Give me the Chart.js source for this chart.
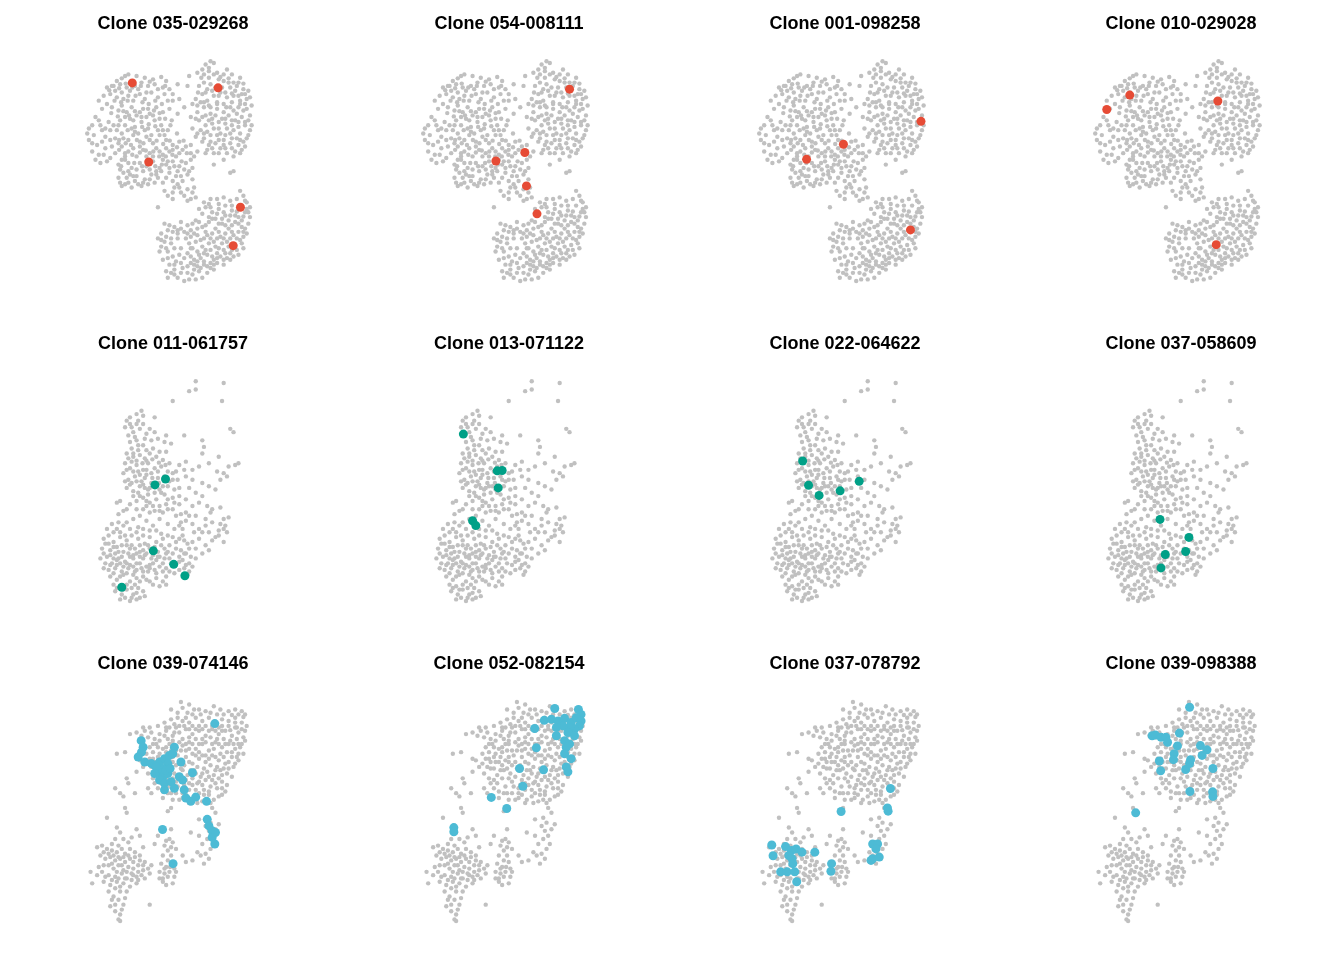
<!DOCTYPE html>
<html>
<head>
<meta charset="utf-8">
<script src="https://cdn.jsdelivr.net/npm/chart.js@4/dist/chart.umd.min.js"></script>
<style>
  html, body { margin: 0; padding: 0; background: #ffffff; }
  #grid { position: relative; width: 1344px; height: 960px; }
  #grid canvas { position: absolute; }
</style>
</head>
<body>
<div id="grid"></div>
<script>
// Embedding coordinates (arbitrary UMAP-like units), y grows downward.
const bgRow1 = [
[385,30],[400,20],[410,25],[395,40],[375,45],
[100,95],[115,80],[140,65],[175,65],[200,70],[225,75],[250,68],[265,80],[150,60],[130,72],
[335,65],[360,55],[380,60],[395,50],[420,55],[440,60],[465,60],[490,70],[485,85],
[85,100],[105,95],[125,90],[145,100],[170,95],[190,85],[210,95],[230,90],[255,100],[275,105],[300,90],
[365,95],[380,85],[400,90],[440,80],[460,100],[480,95],[500,105],[515,110],[330,95],
[75,125],[95,120],[115,130],[130,115],[150,125],[165,140],[185,120],[200,135],[220,115],[240,130],[260,120],[285,140],[305,135],
[355,135],[375,120],[390,140],[410,125],[430,115],[450,130],[470,125],[490,140],[510,135],[525,155],
[50,190],[70,165],[100,160],[130,155],[145,175],[160,160],[175,185],[195,165],[215,180],[235,160],[255,175],[275,165],[300,180],[320,160],
[360,175],[380,160],[400,180],[420,165],[440,175],[460,160],[480,180],[500,170],[520,185],
[25,240],[40,215],[60,200],[90,205],[125,200],[140,215],[155,195],[170,220],[190,205],[210,225],[230,200],[250,215],[270,230],
[345,225],[365,200],[385,215],[405,195],[425,225],[445,210],[465,200],[485,220],[505,205],[525,215],
[30,260],[45,245],[55,275],[80,250],[110,255],[130,240],[150,260],[165,245],[185,265],[205,250],[225,270],[245,245],[265,260],[285,275],[305,265],[325,280],
[355,250],[380,240],[400,265],[420,245],[440,260],[460,240],[480,255],[500,265],[515,245],
[40,295],[60,305],[80,285],[110,300],[130,280],[150,295],[175,310],[195,290],[215,300],[235,285],[255,305],[275,295],[295,310],[315,290],[340,300],[360,295],
[390,290],[410,300],[430,285],[450,300],[475,295],[495,290],
[65,330],[85,325],[120,335],[140,320],[160,345],[185,330],[205,340],[225,325],[245,345],[265,335],[285,325],[305,340],[325,330],[345,345],
[410,335],[440,320],[470,310],[460,360],
[120,375],[135,360],[150,390],[165,370],[180,395],[200,380],[220,365],[240,375],[255,390],[275,360],[295,370],[315,385],[330,365],[130,400],[160,405],[190,400],
[470,355],
[260,415],[285,420],[305,405],[320,430],[345,420],[340,440],[355,435],[285,440],
[240,465],
[490,415],[500,430],[440,435],[460,445],[480,440],[510,450],[425,455],[520,465],
[365,470],[385,465],[405,480],[425,470],[445,490],[465,475],[485,495],[505,480],[520,495],[395,495],
[290,525],[310,510],[330,520],[355,505],[375,525],[395,510],[415,530],[435,515],[455,530],[475,510],[495,525],[515,515],[270,535],[250,545],
[240,560],[265,555],[300,545],[325,560],[350,545],[370,565],[390,550],[410,570],[430,555],[450,570],[470,550],[490,565],[510,545],
[250,585],[270,600],[290,590],[345,590],[365,610],[385,595],[405,615],[425,590],[445,605],[465,595],[485,610],[500,590],
[255,625],[275,640],[295,630],[315,650],[340,635],[360,645],[380,630],[400,650],[420,635],[440,640],[460,625],
[280,665],[300,680],[320,690],[345,670],[365,660],[390,665],[410,655],
[110,110],[135,135],[155,110],[180,105],[205,115],[120,170],[140,190],[165,200],[185,175],[205,190],[225,185],[245,195],
[115,230],[135,255],[160,225],[180,240],[200,230],[220,245],[240,230],[260,245],[120,270],[140,300],[165,285],[185,280],
[205,310],[225,310],[245,295],[265,285],[285,290],[130,320],[150,330],[175,350],[195,355],[215,350],[235,355],[255,320],
[275,345],[300,355],[125,350],[145,375],[170,385],[210,395],[230,390],[300,395],[320,350],[340,320],[345,380],[100,280],
[70,230],[95,230],[50,320],[30,225],[85,150],[60,140],
[390,105],[415,100],[435,100],[455,85],[475,110],[495,120],[370,145],[395,155],[420,145],[440,150],[465,145],[485,160],
[505,150],[375,190],[395,200],[415,185],[435,195],[455,185],[475,200],[495,190],[515,200],[370,230],[390,235],[410,225],
[430,240],[450,225],[470,230],[490,240],[375,265],[395,275],[415,270],[440,275],[460,270],[485,275],[505,280],[410,60],[425,75],[450,45],
[380,450],[400,440],[415,500],[435,500],[455,505],[475,490],[495,505],[510,470],[340,535],[360,530],[385,540],[405,545],
[425,540],[445,545],[465,540],[485,540],[500,555],[335,575],[355,570],[375,585],[395,575],[415,585],[435,575],[455,585],
[475,580],[495,575],[330,605],[350,625],[370,620],[390,610],[410,625],[430,615],[450,620],[470,615],[260,570],[280,575],
[285,615],[305,610],[265,660],[290,655],[330,665],[350,655],[375,680],[310,530],[330,545],[285,540],[260,515],
[92,108],[122,102],[142,88],[162,100],[188,95],[215,82],[240,105],[262,95],[285,120],[108,140],[128,145],[148,140],
[172,125],[193,145],[212,150],[232,140],[252,150],[270,140],[98,178],[118,188],[135,172],[152,185],[170,172],[190,190],
[210,165],[228,170],[245,178],[262,195],[282,200],[65,215],[80,225],[105,215],[120,215],[148,230],[170,235],[192,220],
[212,212],[232,218],[255,230],[278,215],[298,240],[40,270],[70,265],[95,260],[122,260],[142,270],[158,275],[176,260],
[196,270],[215,260],[236,262],[256,272],[276,262],[298,282],[318,262],[340,275],[75,305],[95,315],[122,290],[140,310],
[162,305],[185,298],[203,292],[226,295],[244,310],[264,310],[284,305],[305,300],[328,300],[350,310],[128,340],[150,355],
[168,330],[192,340],[213,330],[232,340],[252,335],[270,325],[290,340],[312,325],[335,355],[125,390],[140,395],[155,365],
[175,370],[195,390],[215,380],[235,365],[250,355],[265,375],[285,385],[310,370],[290,405],[310,420],[330,410],[270,430],
[330,445],[350,405],
[372,70],[395,70],[430,68],[455,72],[470,85],[500,88],[362,115],[385,115],[405,110],[425,125],[445,115],[465,118],
[485,125],[505,120],[520,130],[360,155],[380,145],[400,160],[420,150],[448,160],[470,170],[490,150],[510,165],[355,195],
[385,185],[405,210],[425,205],[445,195],[465,215],[485,205],[505,215],[520,230],[360,240],[380,255],[400,245],[425,260],
[445,245],[465,255],[490,260],[510,255],[385,300],[405,285],[425,300],[445,285],[465,285],[490,300],[340,190],[345,150],
[395,455],[420,440],[445,460],[465,460],[490,460],[505,445],[375,485],[400,465],[420,485],[440,480],[460,490],[480,478],
[500,493],[515,480],[345,515],[365,510],[385,520],[405,500],[425,515],[445,520],[465,520],[485,515],[505,530],[320,540],
[340,555],[360,550],[380,560],[400,560],[420,560],[440,560],[460,560],[480,560],[500,540],[340,590],[360,600],[380,605],
[400,595],[420,605],[440,595],[460,605],[480,595],[320,620],[340,615],[360,630],[380,640],[400,635],[420,620],[440,625],
[270,620],[290,640],[310,635],[330,645],[350,640],[370,650],[390,645],[410,640],[270,680],[290,670],[310,665],[335,685],
[355,685],[245,600],[265,590],[310,590],[250,565],[280,560],[300,560],[275,520],[300,535]
];

const bgRow2 = [
[310,20],[395,25],[290,50],[310,45],[240,80],[390,80],[185,130],[415,165],[425,175],[275,185],[330,200],[440,270],[430,275],
[410,280],[380,250],[335,220],[330,240],
[100,140],[95,160],[110,150],[120,175],[130,120],[145,110],[150,125],[105,185],[125,190],[140,165],[160,180],[185,175],
[175,200],[220,185],[215,205],[235,210],[150,215],[135,215],[100,240],[120,240],
[120,250],[140,245],[155,255],[170,240],[190,250],[210,260],[230,270],[95,270],[110,285],[130,275],[150,290],[165,270],
[185,285],[205,280],[225,295],[240,300],
[90,300],[105,320],[125,310],[145,325],[160,305],[175,330],[195,315],[210,340],[230,325],[245,350],[100,345],[120,355],
[140,340],[165,350],[185,360],[215,365],[240,375],[260,370],
[150,375],[170,390],[190,380],[200,400],[220,395],[240,410],[260,395],[185,415],[210,420],[265,425],[80,385],[100,410],
[110,395],[75,425],[130,410],
[260,275],[280,265],[300,290],[320,280],[350,270],[375,295],[395,300],[280,310],[300,320],[330,330],[290,345],[310,360],
[370,350],[385,320],[405,310],[260,345],[280,380],[300,400],[320,390],[345,400],[360,410],[385,405],[395,440],[410,435],
[120,440],[140,430],[160,445],[180,460],[200,440],[225,455],[245,470],[265,450],[290,430],[300,455],[320,470],[340,460],
[360,450],[380,475],[400,460],[55,455],[70,470],[90,460],[110,470],[130,480],[150,470],
[30,500],[45,490],[60,510],[80,495],[100,505],[115,520],[135,500],[155,515],[170,495],[190,510],[210,500],[230,520],
[250,510],[270,490],[285,515],[320,500],[340,520],[360,505],[380,490],[395,510],[330,545],[350,535],[25,530],[50,535],
[70,525],[90,540],[110,530],[130,545],[150,535],[170,530],[195,540],[215,530],[240,545],[265,535],[290,530],
[20,560],[40,555],[55,575],[75,560],[95,570],[110,555],[130,575],[150,560],[170,580],[190,565],[210,575],[230,560],
[250,580],[270,565],[290,575],[290,600],[45,595],[65,590],[85,600],[105,590],[125,600],[145,590],[165,600],[185,595],
[210,600],[245,605],[275,590],
[50,615],[70,625],[90,610],[110,630],[130,620],[150,615],[170,630],[190,620],[210,630],[220,615],[60,640],[80,645],
[100,640],[125,640],
[65,660],[85,670],[100,655],[115,680],[130,665],[150,660],[110,690],[130,685],[95,680],
[70,390],[90,415],[150,410],[170,420],
[115,265],[135,295],[155,315],[175,300],[195,295],[215,310],[115,330],[135,360],[155,345],[200,350],[225,340],[165,365],
[180,340],[130,385],[160,400],[60,480],[80,480],[45,515],[65,545],[85,520],[120,560],[140,555],[160,545],[180,550],
[200,555],[220,545],[100,575],[120,585],[140,575],[160,585],[180,575],[200,585],[220,590],[260,555],[280,545],[80,575],
[35,575],[60,560],
[110,130],[135,140],[115,160],[130,150],[150,150],[170,165],[110,205],[130,200],[155,195],[195,195],[115,225],[135,230],
[160,230],[180,225],[200,235],[220,235],[105,255],[130,262],[148,270],[160,262],[178,258],[198,268],[218,275],[100,290],
[120,295],[140,305],[160,290],[178,315],[198,330],[220,320],[240,320],[95,325],[110,335],[130,325],[150,335],[170,345],
[190,340],[205,360],[225,380],[245,390],[120,370],[140,370],[160,385],[180,400],[200,415],[225,410],[250,430],[280,420],
[310,430],[260,460],[280,445],[270,470],[305,480],[330,480],[350,480],[370,495],[385,455],[405,480],[395,470],[340,440],
[355,420],[330,370],[350,340],[275,290],[250,295],[255,320],
[40,470],[75,450],[100,450],[95,490],[115,490],[135,465],[150,490],[170,475],[190,475],[205,485],[225,490],[240,495],
[260,500],[275,505],[300,510],[310,530],[35,515],[60,525],[75,540],[100,520],[125,530],[140,520],[165,520],[185,525],
[205,520],[225,540],[250,530],[275,545],[295,555],[310,560],[30,545],[50,550],[70,565],[85,555],[105,545],[120,550],
[140,540],[155,550],[175,560],[195,555],[215,560],[235,575],[260,570],[280,580],[300,585],[30,590],[50,580],[70,580],
[90,585],[110,580],[130,595],[150,600],[170,590],[190,605],[230,600],[260,595],[285,610],[60,605],[80,615],[100,605],
[120,610],[140,630],[160,625],[180,640],[200,645],[220,640],[70,650],[90,655],[115,650],[135,650],[80,685],[120,670],
[140,680],[155,675]
];

const bgRow3 = [
[295,22],[300,40],[320,30],[315,55],[335,45],[355,60],[395,35],[415,45],[440,50],[460,45],[480,50],[490,60],[425,60],
[265,75],[285,70],[300,80],[320,85],[340,70],[360,80],[380,70],[400,85],[420,75],[440,80],[460,70],[480,85],[495,95],
[245,85],[225,95],[200,100],[180,100],
[140,120],[160,115],[185,110],[205,115],[230,120],[250,110],[270,125],[290,115],[310,105],[330,120],[350,110],[370,125],
[390,105],[410,120],[430,110],[450,125],[470,115],[490,110],[215,135],[255,135],
[200,160],[220,150],[240,165],[260,150],[280,170],[300,155],[320,145],[340,165],[360,150],[380,170],[400,145],[420,160],
[440,150],[460,165],[480,150],[190,180],[210,175],[230,180],[250,175],[270,150],
[170,200],[190,210],[210,195],[230,205],[250,215],[270,190],[290,205],[310,190],[330,210],[350,195],[370,205],[390,185],
[410,200],[430,210],[450,190],[470,200],[455,220],
[195,240],[215,225],[235,245],[255,230],[275,240],[295,225],[315,245],[335,230],[355,250],[375,235],[395,245],[415,230],
[435,240],[450,250],[160,235],
[195,285],[215,270],[240,295],[260,280],[280,265],[300,285],[320,270],[340,290],[360,275],[380,295],[400,270],[420,285],
[435,275],[430,295],[205,300],[240,315],
[270,320],[300,315],[320,330],[340,310],[360,325],[380,305],[395,320],[410,310],[265,345],[255,355],[325,320],
[330,95],[350,95],[370,95],[390,95],[410,100],[440,95],[460,100],[300,135],[320,130],[340,135],[360,135],[385,130],
[405,135],[425,135],[445,140],[465,135],[485,130],[310,170],[330,180],[350,175],[370,185],[395,165],[415,180],[435,175],
[470,180],[285,185],[305,215],[325,230],[345,220],[365,225],[385,215],[405,220],[425,225],[440,205],[270,205],[290,250],
[310,260],[330,255],[350,265],[370,260],[390,260],[410,255],[225,260],[250,255],[365,305],[280,300],[300,300],[215,205],
[245,190],[195,130],[225,160],[260,100],[280,100],[460,85],[420,95],[235,270],[320,290],[350,300],
[100,180],[125,175],[160,195],[130,255],[135,270],[95,285],[110,300],[155,300],[125,345],[130,360],[70,375],[120,310],
[390,345],[400,360],[375,375],[385,390],[370,400],[380,415],[400,410],[390,430],[375,440],[395,455],[360,455],[385,470],
[370,485],[355,490],[380,500],[365,515],[350,380],[410,395],[325,420],[350,430],
[265,410],[260,440],[245,460],[270,450],[255,475],[240,490],[265,490],[280,470],[235,515],[250,525],[270,510],[260,540],
[245,545],[275,530],[230,540],[240,560],[255,555],[275,555],[270,575],[240,570],[300,490],[330,505],[345,480],[310,510],
[225,430],[215,455],[205,520],[200,545],
[100,405],[110,420],[160,410],[120,440],[135,450],[40,465],[55,460],[70,470],[85,475],[100,480],[115,470],[125,485],
[140,470],[155,480],[170,490],[180,465],[50,490],[65,500],[80,495],[95,505],[110,500],[125,510],[140,500],[155,495],
[170,505],[185,510],[75,520],[90,530],[105,520],[120,535],[135,525],[150,530],[165,540],[180,535],[195,530],[20,540],
[55,540],[75,550],[95,555],[115,545],[130,560],[150,550],[165,565],[185,560],[25,575],[60,570],[80,580],[100,570],
[120,575],[140,585],[160,575],[110,600],[90,615],[125,620],[105,625],[80,645],[95,660],[110,670],[105,685],[110,690],[200,640],
[310,70],[330,60],[350,45],[370,50],[385,55],[405,60],[450,62],[470,60],[485,68],[275,90],[290,95],[305,95],[320,105],
[340,105],[360,105],[380,110],[400,110],[420,110],[445,108],[465,100],[480,105],[175,125],[245,125],[270,140],[290,145],
[310,150],[330,150],[350,150],[370,145],[390,150],[410,150],[430,150],[455,150],[470,150],[210,150],[230,140],[250,160],
[265,170],[295,170],[320,165],[340,185],[360,185],[380,195],[400,190],[425,190],[450,175],[465,190],[200,195],[225,190],
[240,205],[260,200],[280,215],[300,230],[320,205],[340,240],[360,240],[380,250],[400,230],[420,245],[440,225],[180,220],
[205,220],[225,225],[245,230],[265,225],[270,255],[285,280],[305,275],[330,275],[345,270],[365,290],[385,280],[405,285],
[420,265],[210,255],[225,285],[255,300],[265,300],[290,320],[310,305],[345,330],[375,320],[385,330],[420,305],[460,210],
[475,160],[485,180],[490,140],[265,45],[285,55],[250,100],[275,115],
[95,440],[105,460],[85,455],[60,480],[75,485],[90,490],[105,495],[120,495],[135,490],[150,510],[165,520],[180,520],
[60,520],[45,525],[85,515],[100,540],[115,520],[130,540],[145,545],[160,555],[175,550],[40,550],[65,555],[85,565],
[105,560],[125,560],[145,565],[95,590],[110,585],[75,600],[130,600],[95,640],[120,640],[85,625],[115,655],[170,430],
[145,435],[255,505],[245,530],[262,525],[250,580],[230,560],[280,540],[265,465],[250,445]
];

// Clone titles
const titles = [
  "Clone 035-029268", "Clone 054-008111", "Clone 001-098258", "Clone 010-029028",
  "Clone 011-061757", "Clone 013-071122", "Clone 022-064622", "Clone 037-058609",
  "Clone 039-074146", "Clone 052-082154", "Clone 037-078792", "Clone 039-098388"
];

// Highlighted cells per clone
const clone1 = [[162,86],[423,101],[212,327],[491,465],[469,582]];
const clone2 = [[470,105],[334,298],[246,324],[339,400],[371,485]];
const clone3 = [[517,203],[281,273],[169,319],[485,534]];
const clone4 = [[130,123],[60,167],[398,141],[393,579]];
const clone5 = [[186,336],[218,318],[181,537],[243,578],[277,613],[85,648]];
const clone6 = [[102,181],[205,293],[220,292],[208,345],[130,445],[140,460]];
const clone7 = [[112,263],[130,337],[162,368],[226,354],[284,325]];
const clone8 = [[177,441],[265,496],[255,539],[193,548],[180,589]];
const clone9 = [[398,88],[174,140],[180,160],[175,175],[165,190],[185,205],[205,210],[215,215],[230,205],[245,195],
  [260,185],[275,160],[270,180],[255,210],[240,225],[225,235],[240,250],[255,240],[230,260],[245,270],[245,290],[265,265],
  [275,285],[290,250],[300,260],[295,205],[330,238],[305,290],[310,315],[325,325],[340,312],[373,325],[375,380],[380,400],
  [390,415],[400,420],[390,435],[398,455],[239,411],[271,515],[220,220],[250,230],[262,225],[215,240]];
const clone10 = [[410,42],[482,45],[490,60],[378,78],[400,75],[420,80],[440,72],[460,85],[475,70],[490,80],[485,95],
  [470,105],[455,100],[435,95],[415,100],[450,115],[470,125],[415,125],[440,140],[455,150],[445,160],[440,180],[460,195],
  [445,220],[450,235],[349,103],[354,162],[303,225],[376,229],[313,279],[217,313],[264,347],[103,405],[103,418]];
const clone11 = [[409,286],[400,345],[402,355],[259,356],[48,458],[52,491],[90,463],[108,475],[122,470],[140,480],
  [100,490],[110,500],[112,515],[179,480],[75,540],[95,540],[118,540],[124,570],[230,515],[228,538],[355,455],[370,455],
  [365,470],[355,500],[375,495],[350,505]];
const clone12 = [[297,38],[183,125],[193,123],[210,130],[225,130],[230,145],[266,117],[260,156],[250,180],[248,198],
  [205,202],[209,232],[285,228],[297,210],[300,198],[330,155],[350,168],[335,185],[368,225],[298,295],[367,296],[368,310],[133,360]];

const clones = [clone1, clone2, clone3, clone4, clone5, clone6, clone7, clone8, clone9, clone10, clone11, clone12];
const backgrounds = [bgRow1, bgRow2, bgRow3];
const rowColors = ["#E64B35", "#00A087", "#4DBBD5"];
// axis extents per row (embedding units)
const xRanges = [[-210, 768], [-255, 723], [-225, 753]];
const yRange = [-51, 795];

const grid = document.getElementById('grid');
const toPts = a => a.map(p => ({x: p[0], y: p[1]}));

for (let i = 0; i < 12; i++) {
  const row = Math.floor(i / 4), col = i % 4;
  const cv = document.createElement('canvas');
  cv.width = 336; cv.height = 320;
  cv.style.left = (col * 336) + 'px';
  cv.style.top = (row * 320) + 'px';
  cv.style.width = '336px'; cv.style.height = '320px';
  grid.appendChild(cv);
  new Chart(cv, {
    type: 'scatter',
    data: {
      datasets: [
        { data: toPts(clones[i]), backgroundColor: rowColors[row], borderWidth: 0,
          pointRadius: 4.5, pointHoverRadius: 4.5, order: 0 },
        { data: toPts(backgrounds[row]), backgroundColor: '#C0C0C0', borderWidth: 0,
          pointRadius: 2.2, pointHoverRadius: 2.2, order: 1 }
      ]
    },
    options: {
      responsive: false,
      animation: false,
      events: [],
      layout: { padding: { left: 10, right: 0, top: 0, bottom: 0 } },
      plugins: {
        legend: { display: false },
        tooltip: { enabled: false },
        title: {
          display: true, text: titles[i], color: '#000000',
          font: { family: '"Liberation Sans", Arial, Helvetica, sans-serif', size: 18, weight: 'bold', lineHeight: 1 },
          padding: { top: 15, bottom: 5 }
        }
      },
      scales: {
        x: { type: 'linear', display: false, min: xRanges[row][0], max: xRanges[row][1] },
        y: { type: 'linear', display: false, reverse: true, min: yRange[0], max: yRange[1] }
      }
    }
  });
}
</script>
</body>
</html>
